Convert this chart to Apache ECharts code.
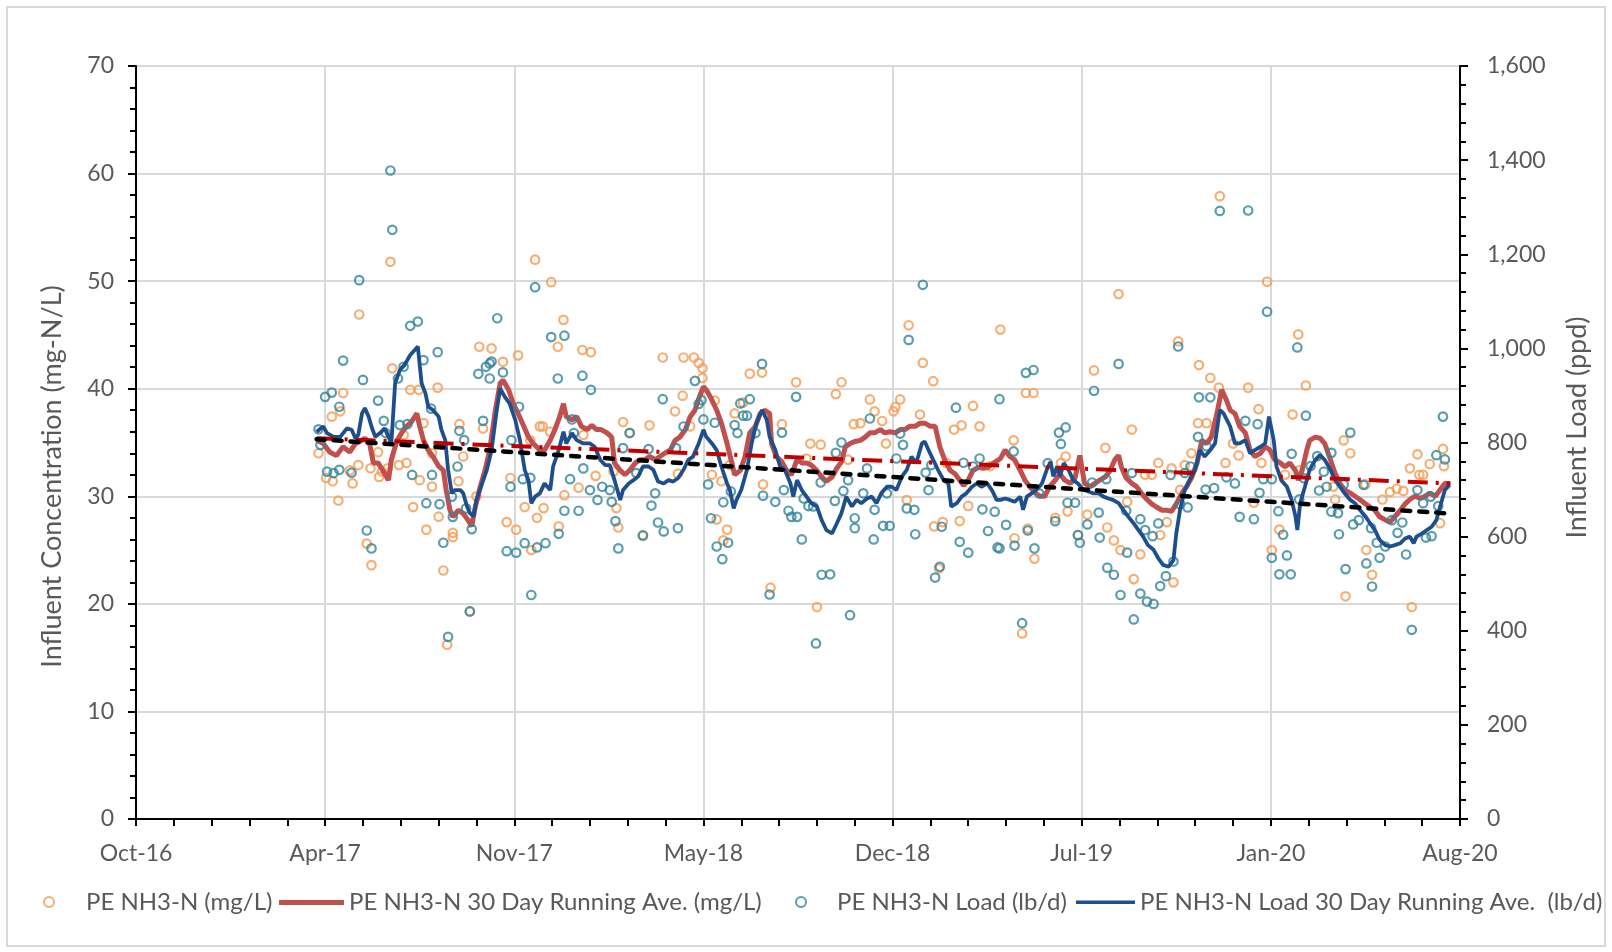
<!DOCTYPE html>
<html>
<head>
<meta charset="utf-8">
<script src="https://cdn.jsdelivr.net/npm/echarts@6/dist/echarts.min.js"></script>
<style>
html,body{margin:0;padding:0;background:#fff;}
#chart{width:1612px;height:952px;}
</style>
</head>
<body>
<div id="chart"></div>
<script>
// x values are days since the axis start (2016-10-07); axis ticks every 200 days
const AXIS_START = Date.UTC(2016, 9, 7);
const MONTHS = ['Jan','Feb','Mar','Apr','May','Jun','Jul','Aug','Sep','Oct','Nov','Dec'];
const xTickDays = [0, 200, 400, 600, 800, 1000, 1200, 1400];

const seriesNames = [
  'PE NH3-N (mg/L)',
  'PE NH3-N 30 Day Running Ave. (mg/L)',
  'PE NH3-N Load (lb/d)',
  'PE NH3-N Load 30 Day Running Ave.  (lb/d)'
];

// PE NH3-N concentration samples [day, mg/L]
const concSamples = [
[193,34.0],[207,37.4],[216,37.9],[219,39.6],[201,31.7],[208,31.4],[214,29.6],[229,31.2],[226,32.4],[235,32.9],[236,46.9],[244,25.6],[249,23.6],[248,32.6],[256,34.1],[257,31.8],[260,32.3],[266,32.6],[269,51.8],[271,41.9],[278,32.9],[283,35.7],[286,33.1],[290,39.9],[299,39.9],[293,29.0],[300,31.5],[304,36.8],[307,26.9],[313,30.9],[313,34.0],[319,40.1],[320,28.1],[325,23.1],[335,26.6],[335,26.2],[341,31.4],[342,36.7],[346,33.7],[353,19.3],[329,16.2],[360,30.0],[363,43.9],[376,43.75],[367,36.3],[388,42.5],[392,27.6],[396,31.7],[402,26.9],[404,43.1],[411,29.0],[417,35.2],[418,25.0],[422,52.0],[424,28.0],[427,36.5],
[439,49.9],[452,46.4],[446,43.9],[472,43.6],[481,43.4],[430,36.5],[438,36.0],[453,30.1],[431,28.9],[447,27.2],[468,30.8],[486,31.9],[473,35.7],[505,32.3],[508,28.9],[510,27.1],[515,36.9],[522,35.9],[543,36.6],[536,26.4],[557,42.9],[579,42.9],[590,42.9],[595,42.4],[599,41.9],[599,41.0],[578,39.35],[570,37.9],[586,36.5],[573,32.1],[609,32.0],[612,38.9],[614,27.85],[619,31.4],[625,26.9],[621,25.9],[628,32.9],[633,37.7],[642,38.7],[649,41.4],[662,41.5],[663,31.1],
[671,21.5],[683,36.7],[698,40.6],[713,34.9],[724,34.8],[740,39.5],[746,40.6],[720,19.7],[759,36.7],[766,36.8],[776,39.0],[781,37.9],[789,37.0],[801,37.9],[803,38.3],[808,39.0],[793,34.9],[815,29.65],[817,45.9],[832,42.4],[843,40.7],[829,37.6],[844,27.2],[853,27.6],[849,23.3],[865,36.2],[873,36.6],[885,38.4],[892,36.5],[871,27.7],[880,29.1],[914,45.5],[709,33.5],[729,31.7],[753,33.4],[857,33.1],[903,32.8],
[941,39.6],[949,39.6],[928,35.2],[929,26.1],[943,27.0],[950,24.2],[937,17.25],[972,28.0],[978,33.1],[983,33.7],[985,28.6],[996,26.4],[1006,28.3],[1013,41.7],[1025,34.5],[1027,27.1],[1034,25.9],[1039,48.8],[1041,25.0],[1053,36.2],[1055,22.3],[1062,24.6],[1048,29.5],[1067,32.0],[1074,32.0],[1081,33.1],[1083,26.4],[1090,27.6],[1095,32.6],[1097,22.0],[1102,44.4],[1109,32.9],[1116,34.0],[1124,42.2],[1123,36.8],[1132,36.8],[1136,41.0],[1145,40.1],[1152,33.1],[1146,57.9],[1104,30.6],
[1196,49.95],[1176,40.1],[1187,38.1],[1160,34.9],[1166,33.8],[1182,29.4],[1190,33.1],[1201,25.0],[1209,26.9],[1223,37.6],[1229,45.05],[1237,40.3],[1215,32.0],[1230,32.4],[1277,35.2],[1284,34.0],[1268,29.7],[1300,31.1],[1301,25.0],[1307,22.7],[1279,20.7],[1318,29.7],[1326,30.4],[1333,30.7],[1340,30.5],[1347,32.6],[1355,33.9],[1357,32.0],[1361,32.0],[1368,33.0],[1382,34.4],[1383,32.8],[1379,27.5],[1349,19.7],[1266,30.9]
];

// 30 day running average of concentration [day, mg/L]
const concRunningAve = [
[191,35.2],[198,34.9],[205,34.1],[212,33.8],[219,34.6],[226,34.1],[232,34.9],[237,35.1],[242,35.4],[247,34.9],[251,33.1],[256,33.1],[261,32.4],[267,31.5],[270,33.4],[276,35.2],[281,35.9],[286,36.5],[291,36.9],[297,37.7],[300,36.5],[304,35.2],[309,34.3],[314,33.7],[320,32.8],[325,32.4],[328,30.6],[332,28.7],[335,28.1],[341,28.7],[346,28.4],[351,27.8],[355,27.2],[358,28.7],[364,30.9],[369,32.4],[374,34.3],[380,38.0],[385,40.5],[388,40.8],[394,39.9],[399,38.6],[404,37.7],[410,36.5],[415,35.5],[420,34.9],[427,34.3],
[432,34.3],[438,35.2],[443,36.2],[448,37.4],[452,38.6],[455,37.4],[461,37.1],[466,37.4],[471,36.5],[477,36.2],[482,36.6],[487,36.2],[492,36.2],[498,35.9],[503,35.5],[506,33.1],[512,32.4],[517,32.0],[522,32.4],[528,33.1],[533,33.4],[538,33.4],[543,33.7],[549,33.4],[554,33.7],[559,34.0],[565,34.3],[570,35.2],[575,35.5],[581,36.2],[586,37.4],[591,38.0],[596,39.3],[600,40.2],[603,39.9],[609,38.95],[614,38.0],[619,36.8],[625,34.9],[630,33.1],[633,32.0],[639,32.4],[644,33.7],[649,35.9],[655,36.5],[660,37.7],[665,38.0],[670,37.7],
[672,34.9],[677,33.7],[683,33.2],[688,32.4],[693,32.0],[699,33.4],[704,33.1],[709,33.1],[714,32.9],[720,32.4],[725,31.8],[730,31.4],[736,31.8],[741,32.6],[746,33.2],[750,34.6],[755,34.9],[760,35.1],[766,35.2],[771,35.5],[776,35.9],[781,35.9],[787,36.2],[792,35.9],[797,36.0],[803,35.9],[808,36.2],[813,36.2],[818,36.5],[824,36.5],[829,36.8],[834,36.8],[840,36.5],[845,36.5],[850,34.6],[855,33.4],[861,32.4],[866,32.1],[871,31.5],[875,31.0],[880,31.5],[885,32.4],[891,32.7],[896,32.6],[901,32.7],[907,33.1],[914,33.5],
[919,34.3],[924,33.7],[929,33.4],[935,32.4],[940,31.5],[945,30.9],[951,30.3],[956,30.0],[961,30.0],[966,30.9],[972,31.5],[977,32.1],[982,31.5],[988,31.2],[993,31.7],[998,33.8],[1003,31.2],[1009,30.9],[1014,31.2],[1019,31.5],[1025,31.8],[1030,32.4],[1035,33.4],[1039,33.8],[1042,32.7],[1047,31.7],[1053,31.2],[1058,30.9],[1063,30.3],[1069,29.7],[1074,29.3],[1079,29.0],[1085,28.7],[1090,28.7],[1095,28.6],[1100,29.3],[1106,30.3],[1111,30.9],[1116,31.7],[1122,33.1],[1127,35.2],[1132,34.9],[1137,35.5],[1143,37.7],[1148,39.9],[1153,38.95],[1157,38.0],
[1162,37.7],[1167,36.5],[1173,35.9],[1178,34.3],[1183,33.7],[1189,34.0],[1194,34.6],[1199,34.3],[1204,33.4],[1210,33.1],[1215,32.75],[1220,33.1],[1226,32.4],[1229,31.5],[1233,32.4],[1238,34.3],[1241,35.2],[1247,35.5],[1252,35.4],[1257,34.9],[1263,33.4],[1268,32.1],[1273,31.2],[1278,30.6],[1284,30.3],[1289,30.0],[1294,29.7],[1300,29.3],[1305,29.0],[1310,28.7],[1315,28.1],[1321,27.8],[1326,27.6],[1331,28.1],[1337,28.7],[1342,29.3],[1347,29.7],[1352,30.0],[1358,29.8],[1363,30.0],[1368,30.3],[1374,30.0],[1379,30.6],[1384,31.2],[1389,31.2]
];

// PE NH3-N load samples [day, lb/d]
const loadSamples = [
[193,828],[195,795],[200,897],[207,906],[202,738],[209,735],[215,742],[215,876],[219,974],[228,736],[236,1145],[240,933],[244,613],[249,575],[256,889],[262,846],[264,820],[269,1378],[271,1252],[277,936],[279,837],[283,961],[287,839],[290,1048],[292,731],[298,1057],[304,975],[307,671],[312,872],[313,731],[319,992],[321,669],[325,587],[330,387],[334,685],[335,642],[340,749],[342,825],[347,805],[349,660],[353,441],[355,616],[362,946],[367,846],[370,961],[374,968],[376,972],[374,936],[382,1064],[388,949],[392,569],[396,706],[397,805],[402,566],[405,876],[409,722],[411,586],[417,725],[418,476],[424,577],[422,1130],
[439,1024],[453,1027],[446,936],[472,942],[481,912],[461,849],[463,820],[459,722],[473,745],[480,699],[488,678],[493,706],[501,699],[503,674],[507,633],[510,575],[515,788],[522,820],[529,735],[536,602],[542,786],[545,666],[549,692],[552,630],[558,611],[573,618],[557,892],[571,788],[579,834],[591,931],[595,882],[598,890],[600,849],[605,711],[608,639],[612,842],[614,579],[620,552],[626,587],[621,673],[629,696],[633,837],[636,820],[639,883],[642,857],[646,857],[649,892],[662,967],[663,687],[655,820],[433,586],[447,606],[453,655],[468,655],
[670,477],[683,821],[698,897],[676,674],[685,699],[690,655],[693,642],[699,642],[704,594],[706,681],[711,665],[716,664],[725,519],[734,520],[719,373],[724,715],[739,676],[740,778],[746,800],[748,697],[753,720],[755,433],[760,639],[760,618],[769,692],[773,745],[776,851],[781,657],[780,594],[790,623],[797,623],[794,692],[804,766],[808,819],[811,795],[815,660],[823,657],[824,605],[832,1135],[817,1018],[835,736],[838,699],[841,752],[845,513],[850,536],[852,621],[867,874],[871,589],[875,757],[880,566],[885,749],[892,766],[895,658],[901,612],[908,653],[911,577],[913,892],
[941,948],[949,954],[928,781],[920,625],[913,575],[929,581],[943,613],[950,575],[937,416],[955,692],[964,756],[972,633],[976,821],[978,797],[983,832],[985,672],[993,672],[996,603],[998,587],[1006,626],[1011,715],[1013,910],[1018,651],[1019,598],[1026,722],[1027,534],[1034,519],[1039,967],[1041,476],[1047,655],[1048,566],[1053,735],[1055,424],[1062,479],[1069,462],[1076,457],[1062,637],[1067,614],[1075,601],[1081,628],[1083,495],[1089,516],[1097,547],[1094,731],[1102,1004],[1104,669],[1109,735],[1112,662],[1115,749],[1123,812],[1124,896],[1131,700],[1132,792],[1136,896],[1140,703],[1146,1292],[1153,726],
[1176,1293],[1196,1078],[1228,1002],[1237,857],[1173,846],[1186,839],[1162,713],[1167,642],[1182,637],[1188,693],[1192,722],[1201,722],[1208,654],[1213,604],[1201,555],[1217,560],[1209,520],[1221,520],[1222,776],[1230,679],[1235,724],[1242,750],[1249,771],[1251,698],[1256,738],[1259,706],[1264,778],[1264,653],[1271,650],[1272,605],[1277,711],[1279,531],[1284,821],[1287,626],[1293,635],[1298,710],[1301,543],[1306,618],[1307,494],[1312,587],[1315,555],[1321,579],[1328,635],[1334,608],[1339,630],[1343,562],[1349,402],[1355,699],[1361,671],[1364,598],[1370,601],[1369,685],[1375,773],[1382,855],[1384,764],[1377,665]
];

// 30 day running average of load [day, lb/d]
const loadRunningAve = [
[191,823],[198,834],[202,820],[209,812],[216,812],[223,830],[228,827],[232,809],[235,816],[239,862],[242,873],[246,855],[249,834],[253,812],[258,820],[263,830],[267,812],[270,798],[274,926],[279,954],[284,965],[290,986],[295,997],[298,1004],[302,926],[306,905],[309,876],[314,869],[320,855],[323,827],[327,805],[330,742],[334,692],[337,699],[343,699],[346,692],[350,664],[353,650],[357,643],[360,678],[366,713],[371,742],[376,784],[381,862],[385,915],[390,897],[395,883],[401,848],[406,805],[411,742],[415,720],[418,671],[422,685],[427,692],
[432,713],[438,699],[441,749],[447,784],[452,823],[455,798],[461,820],[466,805],[473,798],[480,798],[485,791],[491,763],[496,752],[501,752],[506,720],[512,678],[515,699],[521,713],[526,720],[531,728],[536,749],[542,749],[547,742],[552,717],[558,713],[563,720],[568,717],[573,724],[579,742],[584,763],[589,770],[595,798],[600,827],[603,812],[609,798],[614,784],[619,749],[625,713],[628,699],[632,660],[635,678],[640,699],[646,742],[651,798],[656,841],[662,869],[667,848],[670,812],
[676,784],[681,749],[686,742],[692,713],[695,685],[699,720],[704,699],[709,685],[714,671],[720,664],[725,635],[730,614],[736,607],[741,628],[746,650],[751,685],[757,664],[762,678],[767,671],[773,681],[778,685],[783,671],[788,692],[794,706],[799,706],[804,699],[810,728],[815,742],[820,770],[825,756],[831,798],[834,802],[838,784],[843,763],[848,742],[854,720],[859,713],[862,664],[868,671],[873,685],[878,692],[884,706],[889,713],[894,706],[900,713],[905,699],[910,678],[914,678],
[919,681],[924,678],[929,674],[935,685],[938,657],[942,685],[947,692],[952,699],[958,713],[963,742],[967,759],[970,728],[974,749],[977,728],[981,756],[986,742],[991,720],[996,713],[1002,699],[1007,696],[1012,692],[1018,692],[1023,685],[1028,681],[1033,678],[1039,671],[1044,657],[1049,643],[1055,628],[1060,614],[1065,600],[1070,582],[1076,572],[1081,554],[1086,540],[1092,536],[1097,550],[1100,607],[1104,657],[1109,699],[1115,724],[1120,742],[1125,784],[1130,770],[1136,784],[1141,798],[1146,869],[1150,862],[1157,834],
[1162,798],[1167,798],[1173,805],[1178,777],[1183,784],[1189,791],[1194,798],[1198,855],[1203,805],[1206,749],[1211,720],[1217,706],[1222,678],[1226,643],[1228,614],[1231,671],[1236,706],[1241,742],[1247,763],[1252,773],[1257,763],[1263,742],[1268,720],[1273,706],[1278,692],[1284,678],[1289,671],[1294,657],[1300,643],[1305,628],[1310,614],[1315,593],[1321,582],[1326,579],[1331,582],[1337,586],[1342,596],[1347,600],[1351,586],[1354,600],[1360,607],[1365,614],[1370,621],[1375,635],[1379,664],[1384,699],[1389,710]
];

// linear trend lines (end points)
const concTrend = [[191,35.4],[1390,31.2]];
const loadTrend = [[191,807],[1390,649]];

function dayLabel(d) {
  const dt = new Date(AXIS_START + d * 86400000);
  return MONTHS[dt.getUTCMonth()] + '-' + String(dt.getUTCFullYear()).slice(2);
}

const FONT = 'Lato';
const GREY = '#595959';
const LEGEND_MID = 894;
const chart = echarts.init(document.getElementById('chart'), null, {renderer: 'canvas'});

function legendFor(name, left, w, h, icon, textPadLeft, dy) {
  const item = {name: name};
  if (icon) item.icon = icon;
  return {
    data: [item], left: left, top: LEGEND_MID - h / 2 + (dy || 0), padding: 0,
    itemWidth: w, itemHeight: h, itemGap: 0,
    textStyle: {fontFamily: FONT, fontSize: 24, color: GREY, padding: [0, 0, 0, textPadLeft || 0]}
  };
}

const option = {
  animation: false,
  backgroundColor: '#fff',
  textStyle: {fontFamily: FONT},
  graphic: [{
    type: 'rect', silent: true, z: -10,
    shape: {x: 7, y: 7, width: 1598, height: 939},
    style: {fill: 'none', stroke: '#D9D9D9', lineWidth: 2}
  }],
  grid: {left: 136, right: 152, top: 66, bottom: 133, show: true, borderColor: '#000', borderWidth: 2, backgroundColor: 'transparent'},
  legend: [
    legendFor(seriesNames[0], 43, 10, 10, null, 27, 1),
    legendFor(seriesNames[1], 279, 65, 5, 'rect', 0, -1),
    legendFor(seriesNames[2], 795, 10, 10, null, 26, 1),
    legendFor(seriesNames[3], 1076, 59, 3.5, 'rect', 0, -2)
  ],
  xAxis: {
    type: 'value', min: xTickDays[0], max: xTickDays[xTickDays.length - 1], interval: 200,
    axisLine: {show: true, onZero: false, lineStyle: {color: '#000', width: 2}},
    axisTick: {show: true, length: 7, lineStyle: {color: '#000', width: 2}},
    minorTick: {show: true, splitNumber: 5, length: 7, lineStyle: {color: '#000', width: 2}},
    splitLine: {show: true, lineStyle: {color: '#D9D9D9', width: 2}},
    axisLabel: {margin: 23, color: GREY, fontSize: 23, fontFamily: FONT, formatter: dayLabel, showMinLabel: true, showMaxLabel: true}
  },
  yAxis: [{
    type: 'value', min: 0, max: 70, interval: 10, position: 'left',
    name: 'Influent Concentration (mg-N/L)', nameLocation: 'middle', nameRotate: 90, nameGap: 70,
    nameTextStyle: {color: GREY, fontSize: 27, fontFamily: FONT, padding: [0, 68, 0, 0]},
    axisLine: {show: true, lineStyle: {color: '#000', width: 2}},
    axisTick: {show: true, length: 8, lineStyle: {color: '#000', width: 2}},
    minorTick: {show: true, splitNumber: 5, length: 6, lineStyle: {color: '#000', width: 2}},
    splitLine: {show: true, lineStyle: {color: '#D9D9D9', width: 2}},
    axisLabel: {margin: 22, color: GREY, fontSize: 23, fontFamily: FONT}
  }, {
    type: 'value', min: 0, max: 1600, interval: 200, position: 'right',
    name: 'Influent Load (ppd)', nameLocation: 'middle', nameRotate: 90, nameGap: 104,
    nameTextStyle: {color: GREY, fontSize: 27, fontFamily: FONT, padding: [0, 0, 0, 30]},
    axisLine: {show: true, lineStyle: {color: '#000', width: 2}},
    axisTick: {show: true, length: 8, lineStyle: {color: '#000', width: 2}},
    minorTick: {show: true, splitNumber: 5, length: 6, lineStyle: {color: '#000', width: 2}},
    splitLine: {show: false},
    axisLabel: {margin: 27, color: GREY, fontSize: 23, fontFamily: FONT, formatter: v => v.toLocaleString('en-US')}
  }],
  series: [{
    name: seriesNames[0], type: 'scatter', yAxisIndex: 0, data: concSamples,
    symbol: 'circle', symbolSize: 8.5, z: 2,
    itemStyle: {color: 'rgba(255,255,255,0)', borderColor: '#F69A50', borderWidth: 2.2}
  }, {
    name: seriesNames[1], type: 'line', yAxisIndex: 0, data: concRunningAve,
    symbol: 'none', showSymbol: false, z: 3,
    lineStyle: {color: '#C0504D', width: 5}, itemStyle: {color: '#C0504D'}
  }, {
    name: seriesNames[2], type: 'scatter', yAxisIndex: 1, data: loadSamples,
    symbol: 'circle', symbolSize: 8.5, z: 4,
    itemStyle: {color: 'rgba(255,255,255,0)', borderColor: '#2F849A', borderWidth: 2.2}
  }, {
    name: seriesNames[3], type: 'line', yAxisIndex: 1, data: loadRunningAve,
    symbol: 'none', showSymbol: false, z: 5,
    lineStyle: {color: '#1F4E8C', width: 3.8}, itemStyle: {color: '#1F4E8C'}
  }, {
    name: 'conc trend', type: 'line', yAxisIndex: 0, data: concTrend,
    symbol: 'none', showSymbol: false, z: 6, silent: true,
    lineStyle: {color: '#C00000', width: 4, type: [20, 8, 3, 8]}
  }, {
    name: 'load trend', type: 'line', yAxisIndex: 1, data: loadTrend,
    symbol: 'none', showSymbol: false, z: 7, silent: true,
    lineStyle: {color: '#000', width: 4.5, type: [8, 9], cap: 'round'}
  }]
};
chart.setOption(option);
</script>
</body>
</html>
